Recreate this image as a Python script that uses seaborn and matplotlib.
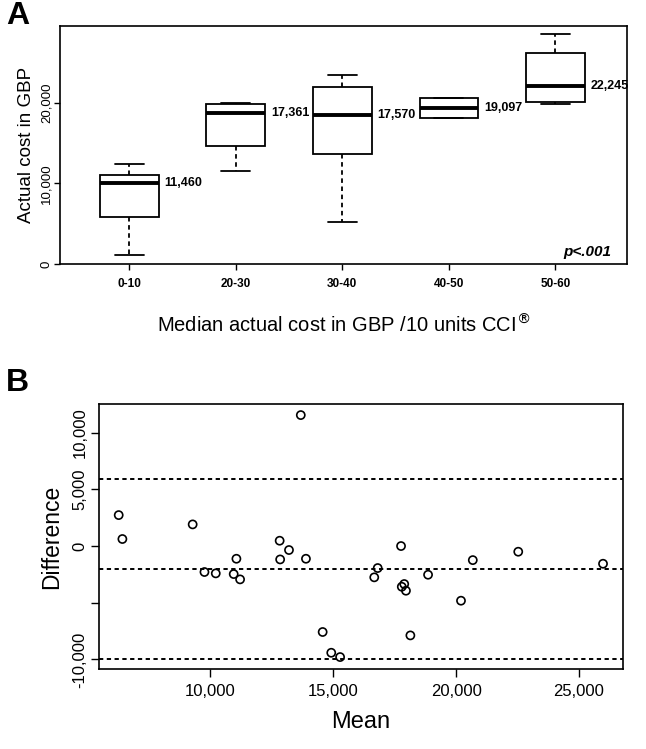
"""Two-panel figure: actual cost by CCI band (box plots) and a Bland-Altman plot."""

import matplotlib

matplotlib.use("Agg")
import matplotlib.pyplot as plt
import numpy as np
import pandas as pd
import seaborn as sns

# Panel A: five-number summaries (min, Q1, median, Q3, max)
GROUPS = ["0-10", "20-30", "30-40", "40-50", "50-60"]
COST_0_10 = [1100, 5850, 10100, 11050, 12450]
COST_20_30 = [11500, 14600, 18700, 19800, 19900]
COST_30_40 = [5250, 13700, 18450, 21950, 23450]
COST_40_50 = [18050, 18050, 19300, 20500, 20500]
COST_50_60 = [19850, 20050, 22000, 26100, 28450]
GROUP_LABELS = [11460, 17361, 17570, 19097, 22245]
A_YTICKS = [0, 10000, 20000]

# Panel B: mean vs difference of paired costs, plus mean and limits of agreement
MEAN_COST = [6270, 6420, 9280, 9760, 10220, 11060, 10950, 11210, 12820, 12840,
             13200, 13680, 13890, 14570, 14920, 15280, 16670, 16810, 17760,
             17790, 17890, 17960, 18140, 18860, 20200, 20680, 22530, 25980]
DIFF_COST = [2730, 620, 1910, -2290, -2410, -1120, -2470, -2940, 470, -1180,
             -350, 11550, -1120, -7580, -9410, -9790, -2760, -1940, 0, -3590,
             -3350, -3940, -7880, -2530, -4820, -1240, -500, -1560]
AGREEMENT_LINES = [5900, -2050, -10000]
B_XTICKS = [10000, 15000, 20000, 25000]
B_YTICKS = [-10000, -5000, 0, 5000, 10000]
B_YTICKLABELS = ["-10,000", "", "0", "5,000", "10,000"]

FONT = ["Liberation Sans", "DejaVu Sans"]


def fmt(v):
    return f"{v:,}"


def plot_box_panel(ax):
    values = [COST_0_10, COST_20_30, COST_30_40, COST_40_50, COST_50_60]
    df = pd.DataFrame(
        [(g, v) for g, vals in zip(GROUPS, values) for v in vals],
        columns=["group", "cost"],
    )
    sns.boxplot(
        data=df, x="group", y="cost", order=GROUPS, whis=(0, 100),
        width=0.55, color="white", linecolor="black", linewidth=1.3,
        medianprops={"linewidth": 2.8},
        whiskerprops={"linestyle": (0, (2.5, 2))},
        showfliers=False, ax=ax,
    )
    for i, (vals, lab) in enumerate(zip(values, GROUP_LABELS)):
        ax.text(i + 0.33, np.median(vals), fmt(lab), ha="left", va="center",
                fontsize=9, fontweight="bold")
    ax.text(0.9735, 0.05, "p<.001", transform=ax.transAxes, ha="right",
            va="center", fontsize=11, fontweight="bold", fontstyle="italic")

    ax.set_xlim(-0.65, 4.67)
    ax.set_ylim(0, 29500)
    ax.set_yticks(A_YTICKS)
    ax.set_yticklabels([fmt(v) for v in A_YTICKS], rotation=90, va="center")
    ax.tick_params(axis="y", length=4, width=1, pad=1.5, labelsize=9.5)
    ax.tick_params(axis="x", length=4, width=1, pad=6, labelsize=8.5)
    for lbl in ax.get_xticklabels():
        lbl.set_fontweight("bold")
    ax.set_ylabel("Actual cost in GBP", fontsize=13.5, labelpad=4)
    ax.set_xlabel("Median actual cost in GBP /10 units CCI$^{®}$", fontsize=14.5,
                  labelpad=17)


def plot_agreement_panel(ax):
    sns.scatterplot(x=MEAN_COST, y=DIFF_COST, marker="o", s=34,
                    facecolor="none", edgecolor="black", linewidth=1.2, ax=ax)
    for y in AGREEMENT_LINES:
        ax.axhline(y, color="black", linewidth=1.4, linestyle=(0, (2.2, 1.8)))

    ax.set_xlim(5480, 26780)
    ax.set_ylim(-10870, 12500)
    ax.set_xticks(B_XTICKS)
    ax.set_xticklabels([fmt(v) for v in B_XTICKS])
    ax.set_yticks(B_YTICKS)
    ax.set_yticklabels(B_YTICKLABELS, rotation=90, va="center")
    ax.tick_params(axis="both", length=5.5, width=1, labelsize=12)
    ax.tick_params(axis="y", pad=3)
    ax.tick_params(axis="x", pad=5)
    ax.set_xlabel("Mean", fontsize=17, labelpad=9)
    ax.set_ylabel("Difference", fontsize=16.5, labelpad=7)


def main():
    sns.set_style("ticks")
    plt.rcParams["font.family"] = FONT
    plt.rcParams["axes.linewidth"] = 1.2
    plt.rcParams["axes.edgecolor"] = "black"
    for key in ["text.color", "axes.labelcolor", "xtick.color", "ytick.color"]:
        plt.rcParams[key] = "black"

    fig = plt.figure(figsize=(6.46, 7.49), dpi=100)
    ax_a = fig.add_axes([0.0929, 0.6471, 0.8772, 0.3186])
    ax_b = fig.add_axes([0.1537, 0.1064, 0.8102, 0.3538])

    plot_box_panel(ax_a)
    plot_agreement_panel(ax_b)

    fig.text(6 / 646, 1 - 1 / 749, "A", fontsize=23, fontweight="bold",
             ha="left", va="top")
    fig.text(6 / 646, 1 - 368 / 749, "B", fontsize=23, fontweight="bold",
             ha="left", va="top")

    fig.savefig("out.png", dpi=100)
    plt.close(fig)


if __name__ == "__main__":
    main()
